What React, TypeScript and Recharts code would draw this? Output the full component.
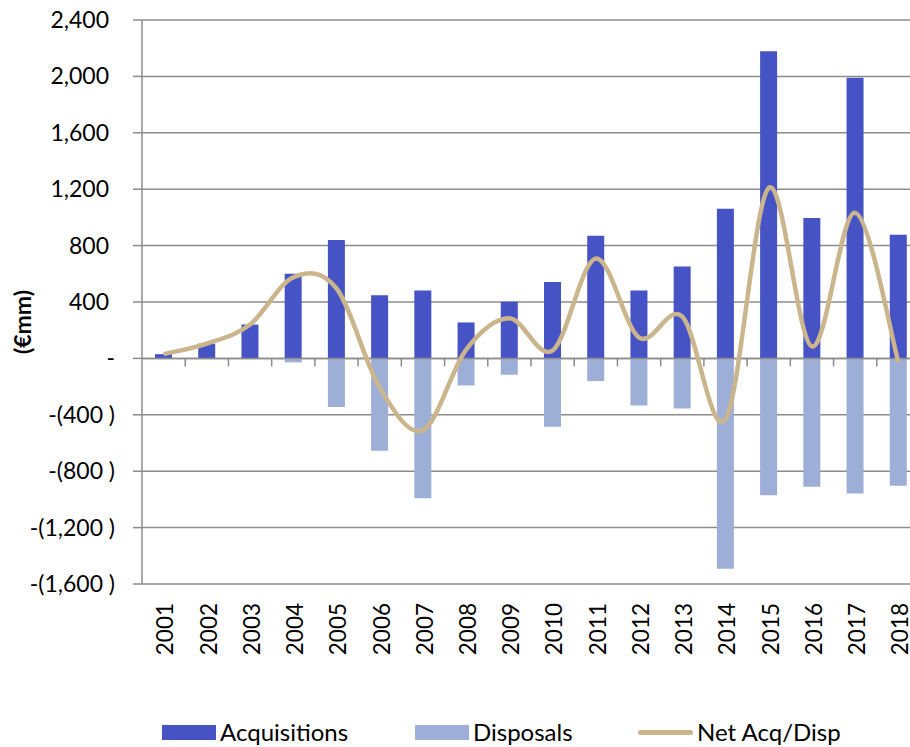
import React from "react";
import { ComposedChart, Bar, Line, XAxis, YAxis, CartesianGrid, ReferenceLine, Legend } from "recharts";

const years = ["2001","2002","2003","2004","2005","2006","2007","2008","2009","2010","2011","2012","2013","2014","2015","2016","2017","2018"];
const acquisitions = [30,105,240,600,840,447,482,255,401,541,870,482,652,1061,2179,995,1990,877];
const disposals = [0,0,0,-28,-345,-655,-991,-192,-116,-485,-161,-334,-355,-1492,-970,-910,-958,-903];
const netAcqDisp = [30,105,240,575,496,-208,-509,63,285,56,709,148,297,-431,1209,85,1032,-26];
const yTicks = [-1600,-1200,-800,-400,0,400,800,1200,1600,2000,2400];

const data = years.map((year, i) => ({
  year,
  acquisitions: acquisitions[i],
  disposals: disposals[i],
  net: netAcqDisp[i],
}));

const FONT = "Lato, 'Open Sans', sans-serif";
const GRID = "#8c8c8c";
const ACQ = "#4653C4";
const DISP = "#9DAED7";
const NET = "#CAB58D";

// Excel-like smoothed line (Catmull-Rom via cubic Bezier)
function excelSmooth(context: any) {
  let pts: number[][] = [];
  return {
    areaStart() {},
    areaEnd() {},
    lineStart() { pts = []; },
    point(x: number, y: number) { pts.push([+x, +y]); },
    lineEnd() {
      const n = pts.length;
      if (!n) return;
      context.moveTo(pts[0][0], pts[0][1]);
      for (let i = 0; i < n - 1; i++) {
        const p0 = pts[Math.max(i - 1, 0)];
        const p1 = pts[i];
        const p2 = pts[i + 1];
        const p3 = pts[Math.min(i + 2, n - 1)];
        context.bezierCurveTo(
          p1[0] + (p2[0] - p0[0]) / 6, p1[1] + (p2[1] - p0[1]) / 6,
          p2[0] - (p3[0] - p1[0]) / 6, p2[1] - (p3[1] - p1[1]) / 6,
          p2[0], p2[1]
        );
      }
    },
  };
}

const fmt = (v: number) => {
  if (v === 0) return "-";
  if (v > 0) return v.toLocaleString("en-US");
  return `-(${Math.abs(v).toLocaleString("en-US")} )`;
};

const YTick = (props: any) => {
  const { x, y, payload } = props;
  const v = payload.value;
  const dx = v > 0 ? -24 : -18;
  return (
    <text x={x + dx} y={y} dy="0.35em" textAnchor="end" fontFamily={FONT} fontSize={23} fill="#000">
      {fmt(v)}
    </text>
  );
};

const XTick = (props: any) => {
  const { x, y, payload } = props;
  return (
    <g transform={`translate(${x + 2},${y + 19})`}>
      <text transform="rotate(-90)" textAnchor="end" dy="0.35em" fontFamily={FONT} fontSize={22.5} fill="#000">
        {payload.value}
      </text>
    </g>
  );
};

const ZeroAxis = (props: any) => {
  const x1 = Number(props.x1), x2 = Number(props.x2), y1 = Number(props.y1);
  const n = years.length;
  const step = (x2 - x1) / n;
  return (
    <g>
      <line x1={x1} x2={x2} y1={y1} y2={y1} stroke={GRID} strokeWidth={1.5} />
      {years.map((_, i) =>
        i === 0 ? null : (
          <line key={i} x1={x1 + i * step} x2={x1 + i * step} y1={y1} y2={y1 + 8} stroke={GRID} strokeWidth={1.5} />
        )
      )}
    </g>
  );
};

const legendItems = [
  { label: "Acquisitions", color: ACQ, kind: "rect", left: 162 },
  { label: "Disposals", color: DISP, kind: "rect", left: 415 },
  { label: "Net Acq/Disp", color: NET, kind: "line", left: 638 },
];

const LegendContent = () => (
  <div style={{ position: "relative", width: 930, height: 60 }}>
    {legendItems.map((it) => (
      <div
        key={it.label}
        style={{
          position: "absolute",
          left: it.left,
          top: 0,
          display: "flex",
          alignItems: "center",
          fontFamily: FONT,
          fontSize: 24,
          color: "#000",
          whiteSpace: "nowrap",
          lineHeight: "24px",
        }}
      >
        {it.kind === "rect" ? (
          <span style={{ display: "inline-block", width: 54, height: 15, background: it.color, marginRight: 4 }} />
        ) : (
          <span style={{ display: "inline-block", width: 55, height: 5, borderRadius: 3, background: it.color, marginRight: 4 }} />
        )}
        <span>{it.label}</span>
      </div>
    ))}
  </div>
);

const YLabel = (props: any) => {
  const vb = props.viewBox || { x: 0, y: 20, width: 142, height: 564 };
  const cx = vb.x + 23;
  const cy = vb.y + vb.height / 2 + 20;
  return (
    <text
      transform={`translate(${cx},${cy}) rotate(-90)`}
      textAnchor="middle"
      dy="0.35em"
      fontFamily={FONT}
      fontSize={23}
      fontWeight="bold"
      fill="#000"
    >
      (€mm)
    </text>
  );
};

export default function App() {
  return (
    <div style={{ position: "fixed", left: 0, top: 0, width: 910, height: 747, overflow: "hidden", background: "#fff" }}>
      <ComposedChart
        width={930}
        height={780}
        data={data}
        margin={{ top: 20, right: 10, left: 0, bottom: 0 }}
        stackOffset="sign"
        barSize={17}
      >
        <CartesianGrid vertical={false} stroke={GRID} strokeWidth={1.5} />
        <XAxis
          dataKey="year"
          axisLine={false}
          tickLine={false}
          tickSize={0}
          tickMargin={0}
          interval={0}
          height={136}
          tick={<XTick />}
        />
        <YAxis
          domain={[-1600, 2400]}
          ticks={yTicks}
          interval={0}
          width={142}
          tickSize={9}
          tickMargin={0}
          tick={<YTick />}
          tickLine={{ stroke: GRID, strokeWidth: 1.5 }}
          axisLine={{ stroke: GRID, strokeWidth: 1.5 }}
          label={{ content: <YLabel /> }}
        />
        <Bar dataKey="acquisitions" name="Acquisitions" stackId="a" fill={ACQ} isAnimationActive={false} />
        <Bar dataKey="disposals" name="Disposals" stackId="a" fill={DISP} isAnimationActive={false} />
        <ReferenceLine y={0} shape={ZeroAxis} />
        <Line
          dataKey="net"
          name="Net Acq/Disp"
          type={excelSmooth as any}
          stroke={NET}
          strokeWidth={4.5}
          dot={false}
          activeDot={false}
          isAnimationActive={false}
        />
        <Legend verticalAlign="bottom" content={<LegendContent />} wrapperStyle={{ height: 60 }} />
      </ComposedChart>
    </div>
  );
}
